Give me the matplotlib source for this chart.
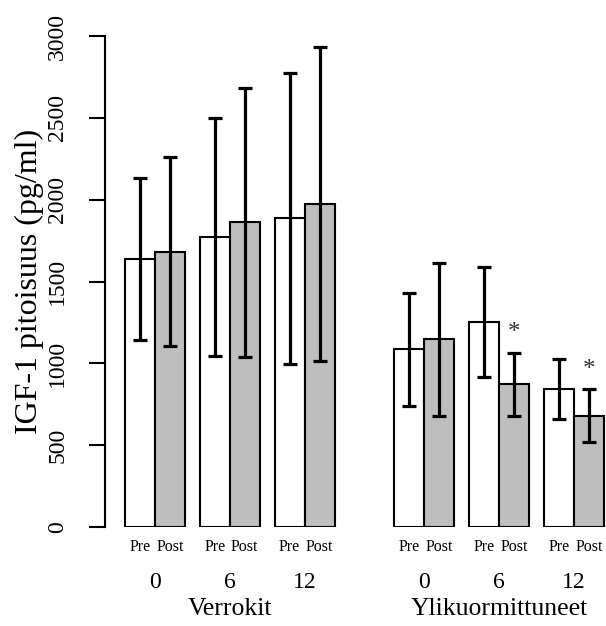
import numpy as np
import matplotlib
matplotlib.use("Agg")
import matplotlib.pyplot as plt

plt.rcParams['font.family'] = ['Liberation Serif', 'DejaVu Serif']

# Arvot luettu kuvasta (pg/ml)
ryhmat = ["Verrokit", "Ylikuormittuneet"]
ajat = ["0", "6", "12", "0", "6", "12"]
pre_ka = [1637, 1771, 1886, 1085, 1254, 841]
post_ka = [1682, 1861, 1973, 1146, 871, 680]
pre_sd = [497, 726, 889, 345, 336, 183]
post_sd = [576, 820, 961, 468, 195, 163]
merkitsevat = [False, False, False, False, True, True]

# palkkien vasemmat reunat (R barplot -tyyli, leveys 1)
vasen = np.array([0, 2.5, 5, 9, 11.5, 14])

fig = plt.figure(figsize=(6.06, 6.26), dpi=100)
ax = fig.add_axes([105 / 606, (626 - 527) / 626, 1 - 105 / 606, 491 / 626])

pre_x = vasen + 0.5
post_x = vasen + 1.5
ax.bar(pre_x, pre_ka, width=1, color="white", edgecolor="black", linewidth=1.5)
ax.bar(post_x, post_ka, width=1, color="#bebebe", edgecolor="black", linewidth=1.5)
ax.errorbar(pre_x, pre_ka, yerr=pre_sd, fmt="none", ecolor="black",
            elinewidth=2.3, capsize=5, capthick=2.3, clip_on=False)
ax.errorbar(post_x, post_ka, yerr=post_sd, fmt="none", ecolor="black",
            elinewidth=2.3, capsize=5, capthick=2.3, clip_on=False)

# tähdet merkitsevien muutosten päälle
for x, y, s, m in zip(post_x, post_ka, post_sd, merkitsevat):
    if m:
        ax.text(x, y + s + 50, "*", ha="center", va="bottom", fontsize=18,
                color="#333333")

ax.set_xlim(-0.668, 16.07)
ax.set_ylim(0, 3000)
for s in ["top", "right", "bottom"]:
    ax.spines[s].set_visible(False)
ax.spines["left"].set_linewidth(1.5)
ax.spines["left"].set_bounds(0, 3000)
ax.set_xticks([])
ax.set_yticks(np.arange(0, 3001, 500))
ax.tick_params(axis="y", length=11.5, width=1.5, pad=15, labelsize=17)
for lab in ax.get_yticklabels():
    lab.set_rotation(90)
    lab.set_va("center")
ax.set_ylabel("IGF-1 pitoisuus (pg/ml)", fontsize=23, labelpad=2)

trans = ax.get_xaxis_transform()

for i in range(len(vasen)):
    for x, t in [(pre_x[i], "Pre"), (post_x[i], "Post")]:
        ax.text(x, (547 - 527) / -491, t, transform=trans, fontsize=11.5,
                ha="center", va="center", clip_on=False)
    ax.text(vasen[i] + 1, (582 - 527) / -491, ajat[i], transform=trans,
            fontsize=17, ha="center", va="center", clip_on=False)

ax.text(vasen[1] + 1, (609 - 527) / -491, ryhmat[0], transform=trans,
        fontsize=18.5, ha="center", va="center", clip_on=False)
ax.text(vasen[4] + 1, (609 - 527) / -491, ryhmat[1], transform=trans,
        fontsize=18.5, ha="center", va="center", clip_on=False)

fig.savefig("out.png", dpi=100)
